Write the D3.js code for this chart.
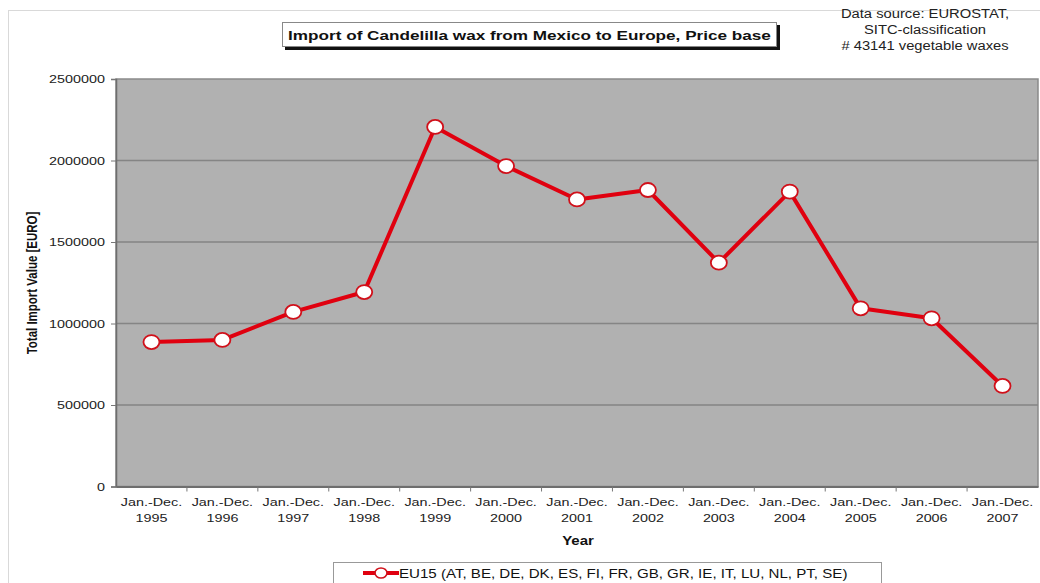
<!DOCTYPE html>
<html>
<head>
<meta charset="utf-8">
<script src="https://cdn.jsdelivr.net/npm/d3@7"></script>
<style>
  html, body { margin: 0; padding: 0; background: #ffffff; }
  svg { display: block; font-family: "Liberation Sans", Arial, sans-serif; }
</style>
</head>
<body>
<svg id="chart" width="1040" height="583"></svg>
<script>
// Yearly import value of candelilla wax, EU15, in EURO
const years = ["1995", "1996", "1997", "1998", "1999", "2000", "2001",
               "2002", "2003", "2004", "2005", "2006", "2007"];
const importValues = [886000, 899000, 1071000, 1193000, 2206000, 1966000, 1761000,
                      1819000, 1373000, 1809000, 1093000, 1032000, 617000];
const yTicks = [0, 500000, 1000000, 1500000, 2000000, 2500000];
const periodLabel = "Jan.-Dec.";
const titleText = "Import of Candelilla wax from Mexico to Europe, Price base";
const sourceLines = ["Data source: EUROSTAT,", "SITC-classification", "# 43141 vegetable waxes"];
const seriesName = "EU15 (AT, BE, DE, DK, ES, FI, FR, GB, GR, IE, IT, LU, NL, PT, SE)";

const svg = d3.select("#chart");
const plot = { left: 116, right: 1038, top: 79, bottom: 486.5 };
const SX = 1.25; // horizontal widening applied to all chart text

// places a text element at (x, y) with the wide lettering used throughout
const at = (x, y, s = SX) => `translate(${x},${y}) scale(${s},1)`;

// outer chart frame
svg.append("rect")
  .attr("x", 8.5).attr("y", 10.5).attr("width", 1040).attr("height", 600)
  .attr("fill", "none").attr("stroke", "#d9d9d9").attr("stroke-width", 1);

const x = d3.scaleBand().domain(years).range([plot.left, plot.right]);
const y = d3.scaleLinear().domain([0, 2500000]).range([plot.bottom, plot.top]);

// plot area background
svg.append("rect")
  .attr("x", plot.left).attr("y", plot.top)
  .attr("width", plot.right - plot.left).attr("height", plot.bottom - plot.top)
  .attr("fill", "#b1b1b1").attr("stroke", "#8a8a8a").attr("stroke-width", 1.5);

// horizontal gridlines
svg.append("g")
  .selectAll("line")
  .data(yTicks.filter(v => v > 0 && v < 2500000))
  .join("line")
  .attr("x1", plot.left).attr("x2", plot.right)
  .attr("y1", d => y(d)).attr("y2", d => y(d))
  .attr("stroke", "#858585").attr("stroke-width", 1.3);

// y axis
const yAxis = svg.append("g")
  .attr("transform", `translate(${plot.left},0)`)
  .call(d3.axisLeft(y).tickValues(yTicks).tickFormat(d3.format("d")).tickSize(5).tickPadding(7));
yAxis.select(".domain").attr("stroke", "#6e6e6e").attr("stroke-width", 1.5);
yAxis.selectAll(".tick line").attr("stroke", "#777");
yAxis.selectAll("text")
  .attr("font-size", 11.5).attr("fill", "#222")
  .attr("font-family", "Liberation Sans, Arial, sans-serif")
  .attr("x", -11 / SX)
  .attr("transform", `scale(${SX},1)`);

// x axis baseline
const xAxis = svg.append("g")
  .attr("transform", `translate(0,${plot.bottom})`)
  .call(d3.axisBottom(x).tickSize(0).tickFormat(""));
xAxis.select(".domain").attr("stroke", "#6e6e6e").attr("stroke-width", 2);

// category separator ticks
svg.append("g")
  .selectAll("line")
  .data(years.slice(1))
  .join("line")
  .attr("x1", d => x(d)).attr("x2", d => x(d))
  .attr("y1", plot.bottom).attr("y2", plot.bottom + 5)
  .attr("stroke", "#777");

// two-line period labels
const xl = svg.append("g").attr("font-size", 11.5).attr("fill", "#222").attr("text-anchor", "middle");
xl.selectAll("text.period").data(years).join("text")
  .attr("class", "period")
  .attr("transform", d => at(x(d) + x.bandwidth() / 2, 506))
  .text(periodLabel);
xl.selectAll("text.year").data(years).join("text")
  .attr("class", "year")
  .attr("transform", d => at(x(d) + x.bandwidth() / 2, 522))
  .text(d => d);

// axis titles
svg.append("text")
  .attr("transform", at(578, 545))
  .attr("text-anchor", "middle").attr("font-size", 12).attr("font-weight", "bold")
  .attr("fill", "#111").text("Year");
svg.append("text")
  .attr("transform", `translate(37,283) scale(${SX},1) rotate(-90)`)
  .attr("text-anchor", "middle").attr("font-size", 11.5).attr("font-weight", "bold")
  .attr("fill", "#111").text("Total Import Value [EURO]");

// data line and markers
const cx = d => x(d) + x.bandwidth() / 2;
const line = d3.line().x((d, i) => cx(years[i])).y(d => y(d));
svg.append("path")
  .datum(importValues)
  .attr("d", line)
  .attr("fill", "none").attr("stroke", "#e0000f").attr("stroke-width", 4)
  .attr("stroke-linejoin", "round");
svg.append("g")
  .selectAll("ellipse")
  .data(importValues)
  .join("ellipse")
  .attr("cx", (d, i) => cx(years[i])).attr("cy", d => y(d))
  .attr("rx", 8).attr("ry", 7)
  .attr("fill", "#ffffff").attr("stroke", "#d0101a").attr("stroke-width", 1.8);

// title box with drop shadow
const title = svg.append("g");
title.append("rect")
  .attr("x", 285).attr("y", 25).attr("width", 495).attr("height", 25)
  .attr("fill", "#111");
title.append("rect")
  .attr("x", 282.5).attr("y", 22.5).attr("width", 494).attr("height", 24)
  .attr("fill", "#ffffff").attr("stroke", "#888").attr("stroke-width", 1);
title.append("text")
  .attr("transform", at(529.5, 39.5, 1.27))
  .attr("text-anchor", "middle").attr("font-size", 13.5).attr("font-weight", "bold")
  .attr("fill", "#111").text(titleText);

// data source note
svg.append("g")
  .selectAll("text")
  .data(sourceLines)
  .join("text")
  .attr("transform", (d, i) => at(925, 18 + i * 16, 1.23))
  .attr("text-anchor", "middle").attr("font-size", 12).attr("fill", "#222")
  .text(d => d);

// legend
const legend = svg.append("g");
legend.append("rect")
  .attr("x", 333.5).attr("y", 562.5).attr("width", 548).attr("height", 30)
  .attr("fill", "#ffffff").attr("stroke", "#999").attr("stroke-width", 1);
legend.append("line")
  .attr("x1", 363).attr("x2", 399).attr("y1", 573).attr("y2", 573)
  .attr("stroke", "#e0000f").attr("stroke-width", 4);
legend.append("ellipse")
  .attr("cx", 381).attr("cy", 573).attr("rx", 6).attr("ry", 5)
  .attr("fill", "#ffffff").attr("stroke", "#d0101a").attr("stroke-width", 1.6);
legend.append("text")
  .attr("transform", at(399, 577.5, 1.26))
  .attr("font-size", 12).attr("fill", "#111").text(seriesName);
</script>
</body>
</html>
